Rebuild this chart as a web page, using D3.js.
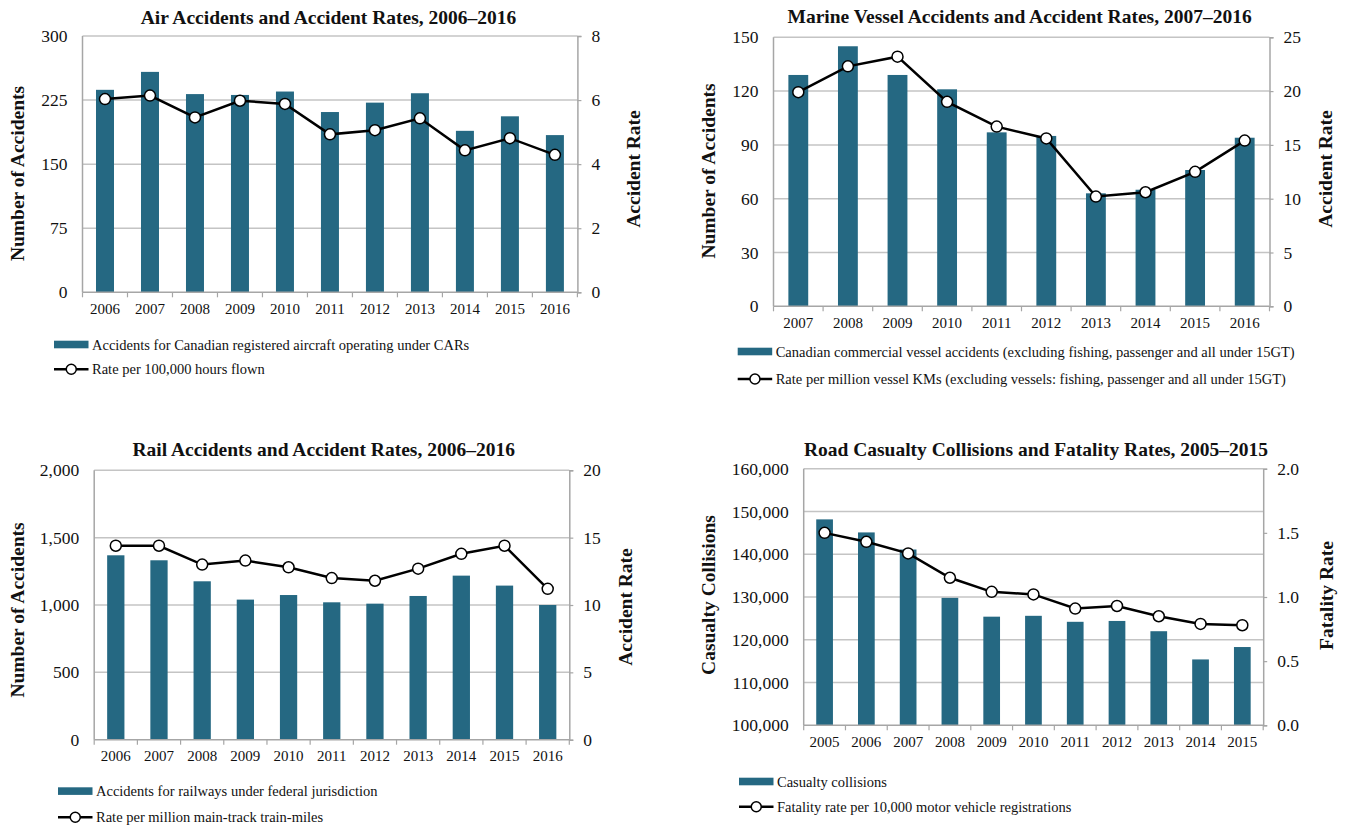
<!DOCTYPE html>
<html lang="en">
<head>
    <meta charset="UTF-8">
    <title>Transportation Accidents and Accident Rates</title>
    <script src="https://d3js.org/d3.v7.min.js"></script>
    <style>
        body {
            margin: 0;
            background: #fff;
        }
        svg {
            display: block;
        }
        text {
            font-family: 'Liberation Serif', 'Times New Roman', serif;
            fill: #111;
        }
        .chart-title, .axis-title {
            font-weight: bold;
            font-size: 19.5px;
        }
        .legend-text {
            font-size: 14.5px;
        }
    </style>
</head>
<body>
    <svg id="chart" width="1349" height="827"></svg>

    <script>
        // Air
        const airYears = ['2006', '2007', '2008', '2009', '2010', '2011', '2012', '2013', '2014', '2015', '2016'];
        const airAccidents = [237, 258, 232, 231, 235, 211, 222, 233, 189, 206, 184];
        const airRates = [6.03, 6.14, 5.46, 5.98, 5.88, 4.93, 5.06, 5.43, 4.43, 4.81, 4.29];
        const airLeftTicks = [0, 75, 150, 225, 300];
        const airRightTicks = [0, 2, 4, 6, 8];

        // Marine
        const marineYears = ['2007', '2008', '2009', '2010', '2011', '2012', '2013', '2014', '2015', '2016'];
        const marineAccidents = [129, 145, 129, 121, 97, 95, 63, 65, 76, 94];
        const marineRates = [19.9, 22.3, 23.2, 19.0, 16.7, 15.6, 10.2, 10.6, 12.5, 15.4];
        const marineLeftTicks = [0, 30, 60, 90, 120, 150];
        const marineRightTicks = [0, 5, 10, 15, 20, 25];

        // Rail
        const railYears = ['2006', '2007', '2008', '2009', '2010', '2011', '2012', '2013', '2014', '2015', '2016'];
        const railAccidents = [1369, 1332, 1176, 1040, 1074, 1020, 1010, 1067, 1218, 1144, 1000];
        const railRates = [14.4, 14.4, 13.0, 13.3, 12.8, 12.0, 11.8, 12.7, 13.8, 14.4, 11.2];
        const railLeftTicks = [0, 500, 1000, 1500, 2000];
        const railRightTicks = [0, 5, 10, 15, 20];

        // Road
        const roadYears = ['2005', '2006', '2007', '2008', '2009', '2010', '2011', '2012', '2013', '2014', '2015'];
        const roadCollisions = [148150, 145100, 141100, 129800, 125400, 125600, 124200, 124400, 122000, 115400, 118300];
        const roadRates = [1.50, 1.43, 1.34, 1.15, 1.04, 1.02, 0.91, 0.93, 0.85, 0.79, 0.78];
        const roadLeftTicks = [100000, 110000, 120000, 130000, 140000, 150000, 160000];
        const roadRightTicks = [0, 0.5, 1.0, 1.5, 2.0];

        const barColor = '#256882';
        const gridColor = '#c4c4c4';
        const axisColor = '#a6a6a6';

        const svg = d3.select('#chart');

        const panels = [
            {
                years: airYears, bars: airAccidents, rates: airRates,
                leftTicks: airLeftTicks, rightTicks: airRightTicks,
                leftFormat: d3.format('d'), rightFormat: d3.format('d'),
                x0: 82.5, x1: 577.4, y0: 36, y1: 292.3,
                title: 'Air Accidents and Accident Rates, 2006–2016', titleX: 328.5, titleY: 23.5,
                leftLabel: 'Number of Accidents', leftLabelX: 24, leftLabelY: 173.5,
                rightLabel: 'Accident Rate', rightLabelX: 640, rightLabelY: 169,
                legendX: 54, swatchY: 340.7, text1Y: 349.5, lineY: 369.3, text2Y: 374,
                legend1: 'Accidents for Canadian registered aircraft operating under CARs',
                legend2: 'Rate per 100,000 hours flown'
            },
            {
                years: marineYears, bars: marineAccidents, rates: marineRates,
                leftTicks: marineLeftTicks, rightTicks: marineRightTicks,
                leftFormat: d3.format('d'), rightFormat: d3.format('d'),
                x0: 773.5, x1: 1269.5, y0: 37.3, y1: 306.3,
                title: 'Marine Vessel Accidents and Accident Rates, 2007–2016', titleX: 1019.6, titleY: 22.5,
                leftLabel: 'Number of Accidents', leftLabelX: 714.6, leftLabelY: 171,
                rightLabel: 'Accident Rate', rightLabelX: 1332, rightLabelY: 169,
                legendX: 737.7, swatchY: 347.7, text1Y: 357, lineY: 379, text2Y: 383.5,
                legend1: 'Canadian commercial vessel accidents (excluding fishing, passenger and all under 15GT)',
                legend2: 'Rate per million vessel KMs (excluding vessels: fishing, passenger and all under 15GT)'
            },
            {
                years: railYears, bars: railAccidents, rates: railRates,
                leftTicks: railLeftTicks, rightTicks: railRightTicks,
                leftFormat: d3.format(','), rightFormat: d3.format('d'),
                x0: 94.2, x1: 569.3, y0: 470.3, y1: 739.7,
                title: 'Rail Accidents and Accident Rates, 2006–2016', titleX: 323.7, titleY: 455.5,
                leftLabel: 'Number of Accidents', leftLabelX: 24, leftLabelY: 610,
                rightLabel: 'Accident Rate', rightLabelX: 631.6, rightLabelY: 607,
                legendX: 58, swatchY: 787.3, text1Y: 795.5, lineY: 817.3, text2Y: 822,
                legend1: 'Accidents for railways under federal jurisdiction',
                legend2: 'Rate per million main-track train-miles'
            },
            {
                years: roadYears, bars: roadCollisions, rates: roadRates,
                leftTicks: roadLeftTicks, rightTicks: roadRightTicks,
                leftFormat: d3.format(','), rightFormat: d3.format('.1f'),
                x0: 803.7, x1: 1263.2, y0: 468.7, y1: 725.3,
                title: 'Road Casualty Collisions and Fatality Rates, 2005–2015', titleX: 1036, titleY: 455.5,
                leftLabel: 'Casualty Collisions', leftLabelX: 714.6, leftLabelY: 595,
                rightLabel: 'Fatality Rate', rightLabelX: 1333, rightLabelY: 595.5,
                legendX: 739, swatchY: 777.7, text1Y: 786.5, lineY: 806.7, text2Y: 811.5,
                legend1: 'Casualty collisions',
                legend2: 'Fatality rate per 10,000 motor vehicle registrations'
            }
        ];

        function drawPanel(p) {
            const g = svg.append('g');

            const x = d3.scaleBand()
                .domain(p.years)
                .range([p.x0, p.x1])
                .paddingInner(0.6)
                .paddingOuter(0.3);
            const yLeft = d3.scaleLinear()
                .domain(d3.extent(p.leftTicks))
                .range([p.y1, p.y0]);
            const yRight = d3.scaleLinear()
                .domain(d3.extent(p.rightTicks))
                .range([p.y1, p.y0]);

            // gridlines
            g.selectAll('.grid')
                .data(p.leftTicks.slice(1))
                .enter().append('line')
                .attr('x1', p.x0).attr('x2', p.x1)
                .attr('y1', d => yLeft(d)).attr('y2', d => yLeft(d))
                .attr('stroke', gridColor)
                .attr('stroke-width', 1.5);

            // bars
            g.selectAll('.bar')
                .data(p.bars)
                .enter().append('rect')
                .attr('x', (d, i) => x(p.years[i]))
                .attr('y', d => yLeft(d))
                .attr('width', x.bandwidth())
                .attr('height', d => p.y1 - yLeft(d))
                .attr('fill', barColor);

            // left frame line
            g.append('line')
                .attr('x1', p.x0).attr('x2', p.x0)
                .attr('y1', p.y0).attr('y2', p.y1)
                .attr('stroke', axisColor).attr('stroke-width', 1.5);

            // bottom line with ticks between categories
            const step = x.step();
            g.append('line')
                .attr('x1', p.x0).attr('x2', p.x1)
                .attr('y1', p.y1).attr('y2', p.y1)
                .attr('stroke', axisColor).attr('stroke-width', 1.5);
            g.selectAll('.xtick')
                .data(d3.range(p.years.length + 1))
                .enter().append('line')
                .attr('x1', i => p.x0 + i * step).attr('x2', i => p.x0 + i * step)
                .attr('y1', p.y1).attr('y2', p.y1 + 5)
                .attr('stroke', axisColor).attr('stroke-width', 1.2);

            // axes for labels
            const bottomAxis = g.append('g')
                .attr('transform', `translate(0,${p.y1})`)
                .call(d3.axisBottom(x).tickSize(0).tickPadding(11));
            bottomAxis.select('.domain').remove();
            bottomAxis.selectAll('text')
                .attr('font-size', 15);

            const leftAxis = g.append('g')
                .attr('transform', `translate(${p.x0},0)`)
                .call(d3.axisLeft(yLeft).tickValues(p.leftTicks).tickFormat(p.leftFormat).tickSize(0).tickPadding(15));
            leftAxis.select('.domain').remove();
            leftAxis.selectAll('text')
                .attr('font-size', 17.5);

            const rightAxis = g.append('g')
                .attr('transform', `translate(${p.x1},0)`)
                .call(d3.axisRight(yRight).tickValues(p.rightTicks).tickFormat(p.rightFormat).tickSize(4).tickPadding(10));
            rightAxis.select('.domain')
                .attr('stroke', axisColor).attr('stroke-width', 1.5);
            rightAxis.selectAll('.tick line')
                .attr('stroke', axisColor).attr('stroke-width', 1.2);
            rightAxis.selectAll('text')
                .attr('font-size', 17.5);
            [bottomAxis, leftAxis, rightAxis].forEach(a => a.attr('font-family', null).attr('font-size', null));

            // rate line
            const cx = (d, i) => x(p.years[i]) + x.bandwidth() / 2;
            const line = d3.line()
                .x(cx)
                .y(d => yRight(d));
            g.append('path')
                .datum(p.rates)
                .attr('d', line)
                .attr('fill', 'none')
                .attr('stroke', '#000')
                .attr('stroke-width', 2.5);
            g.selectAll('.pt')
                .data(p.rates)
                .enter().append('circle')
                .attr('cx', cx)
                .attr('cy', d => yRight(d))
                .attr('r', 5.5)
                .attr('fill', '#fff')
                .attr('stroke', '#000')
                .attr('stroke-width', 1.5);

            // titles
            g.append('text')
                .attr('class', 'chart-title')
                .attr('x', p.titleX).attr('y', p.titleY)
                .attr('text-anchor', 'middle')
                .text(p.title);
            g.append('text')
                .attr('class', 'axis-title')
                .attr('transform', `translate(${p.leftLabelX},${p.leftLabelY}) rotate(-90)`)
                .attr('text-anchor', 'middle')
                .text(p.leftLabel);
            g.append('text')
                .attr('class', 'axis-title')
                .attr('transform', `translate(${p.rightLabelX},${p.rightLabelY}) rotate(-90)`)
                .attr('text-anchor', 'middle')
                .text(p.rightLabel);

            // legend
            const lw = 34.5;
            g.append('rect')
                .attr('x', p.legendX).attr('y', p.swatchY)
                .attr('width', lw).attr('height', 7.6)
                .attr('fill', barColor);
            g.append('text')
                .attr('class', 'legend-text')
                .attr('x', p.legendX + lw + 3.5).attr('y', p.text1Y)
                .text(p.legend1);
            g.append('line')
                .attr('x1', p.legendX).attr('x2', p.legendX + lw)
                .attr('y1', p.lineY).attr('y2', p.lineY)
                .attr('stroke', '#000').attr('stroke-width', 2.5);
            g.append('circle')
                .attr('cx', p.legendX + lw / 2).attr('cy', p.lineY)
                .attr('r', 5)
                .attr('fill', '#fff').attr('stroke', '#000').attr('stroke-width', 1.5);
            g.append('text')
                .attr('class', 'legend-text')
                .attr('x', p.legendX + lw + 3.5).attr('y', p.text2Y)
                .text(p.legend2);
        }

        panels.forEach(drawPanel);
    </script>
</body>
</html>
